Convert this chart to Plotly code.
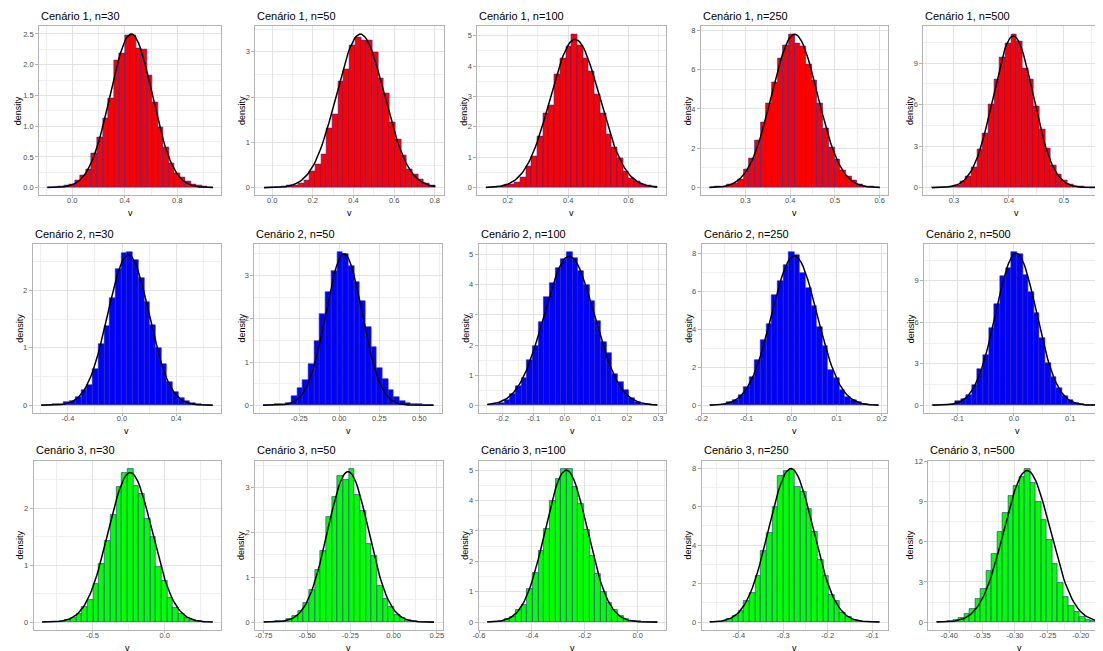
import numpy as np
import plotly.graph_objects as go

PAGE_W, PAGE_H = 1103, 651
OFF = 8  # default page margin around the plot div
W, H = PAGE_W - OFF, PAGE_H - OFF

titles = ["Cenário 1, n=30", "Cenário 1, n=50", "Cenário 1, n=100", "Cenário 1, n=250", "Cenário 1, n=500",
          "Cenário 2, n=30", "Cenário 2, n=50", "Cenário 2, n=100", "Cenário 2, n=250", "Cenário 2, n=500",
          "Cenário 3, n=30", "Cenário 3, n=50", "Cenário 3, n=100", "Cenário 3, n=250", "Cenário 3, n=500"]

fills = ["#FF0000"] * 5 + ["#0000FF"] * 5 + ["#00FF00"] * 5

# histogram densities (30 bins each)
h1 = [0.00, 0.01, 0.02, 0.03, 0.06, 0.12, 0.20, 0.30, 0.56, 0.81, 1.13, 1.46, 2.07, 2.19, 2.48, 2.48, 2.27, 2.25, 1.82, 1.38, 0.98, 0.66, 0.40, 0.24, 0.16, 0.10, 0.06, 0.03, 0.02, 0.01]
h2 = [0.00, 0.005, 0.01, 0.02, 0.04, 0.06, 0.09, 0.15, 0.36, 0.51, 0.74, 1.31, 1.62, 2.34, 2.61, 3.14, 3.32, 3.26, 3.26, 2.98, 2.42, 2.08, 1.44, 1.06, 0.71, 0.40, 0.29, 0.18, 0.10, 0.06]
h3 = [0.01, 0.02, 0.05, 0.08, 0.12, 0.17, 0.35, 0.70, 1.02, 1.68, 2.43, 2.72, 3.72, 4.25, 4.65, 5.05, 4.68, 4.25, 3.83, 3.07, 2.45, 1.75, 1.32, 0.95, 0.55, 0.30, 0.20, 0.12, 0.07, 0.03]
h4 = [0.02, 0.05, 0.08, 0.15, 0.22, 0.40, 0.95, 1.48, 2.40, 3.33, 4.27, 5.33, 6.55, 7.25, 7.80, 7.35, 7.15, 6.25, 5.47, 4.28, 3.00, 2.05, 1.42, 0.88, 0.55, 0.35, 0.18, 0.08, 0.04, 0.02]
h5 = [0.01, 0.02, 0.05, 0.10, 0.20, 0.45, 0.85, 1.50, 2.80, 3.95, 6.05, 7.85, 9.40, 10.40, 11.10, 10.55, 8.65, 7.80, 5.85, 4.20, 2.85, 1.60, 0.95, 0.50, 0.25, 0.12, 0.06, 0.03, 0.01, 0.01]
h6 = [0.005, 0.01, 0.02, 0.03, 0.05, 0.08, 0.15, 0.27, 0.36, 0.63, 1.07, 1.37, 1.87, 2.37, 2.65, 2.67, 2.52, 2.22, 1.80, 1.40, 1.00, 0.72, 0.40, 0.23, 0.13, 0.08, 0.04, 0.02, 0.01, 0.01]
h7 = [0.005, 0.01, 0.02, 0.03, 0.06, 0.22, 0.39, 0.58, 0.96, 1.48, 2.10, 2.62, 3.10, 3.55, 3.50, 3.22, 2.85, 2.40, 1.80, 1.35, 0.85, 0.60, 0.35, 0.20, 0.10, 0.05, 0.03, 0.02, 0.01, 0.005]
h8 = [0.01, 0.03, 0.07, 0.18, 0.38, 0.65, 0.90, 1.50, 1.97, 2.75, 3.60, 4.05, 4.55, 4.85, 5.10, 4.90, 4.45, 4.00, 3.45, 2.80, 2.10, 1.75, 1.05, 0.78, 0.52, 0.25, 0.12, 0.05, 0.03, 0.02]
h9 = [0.02, 0.03, 0.08, 0.15, 0.30, 0.55, 0.95, 1.50, 2.40, 3.45, 4.30, 5.80, 6.55, 7.40, 8.10, 7.95, 7.00, 6.20, 5.25, 4.15, 3.15, 1.85, 1.45, 0.80, 0.45, 0.30, 0.15, 0.08, 0.04, 0.02]
h10 = [0.01, 0.02, 0.05, 0.10, 0.30, 0.45, 0.75, 1.50, 2.65, 3.60, 5.60, 7.35, 9.35, 9.90, 11.10, 10.90, 9.40, 8.20, 6.65, 4.85, 3.05, 2.05, 1.25, 0.70, 0.35, 0.15, 0.07, 0.03, 0.02, 0.01]
h11 = [0.005, 0.01, 0.01, 0.02, 0.04, 0.08, 0.14, 0.27, 0.39, 0.68, 1.02, 1.43, 1.88, 2.38, 2.62, 2.70, 2.40, 2.25, 1.82, 1.50, 0.98, 0.72, 0.43, 0.25, 0.15, 0.08, 0.04, 0.02, 0.01, 0.005]
h12 = [0.005, 0.01, 0.02, 0.03, 0.08, 0.14, 0.25, 0.43, 0.71, 1.17, 1.60, 2.35, 2.80, 3.27, 3.17, 3.43, 2.85, 2.48, 1.75, 1.48, 0.82, 0.52, 0.33, 0.17, 0.10, 0.05, 0.03, 0.01, 0.01, 0.005]
h13 = [0.005, 0.02, 0.05, 0.10, 0.18, 0.40, 0.56, 1.10, 1.62, 2.35, 3.07, 4.00, 4.72, 5.05, 5.05, 4.45, 3.88, 3.05, 2.17, 1.58, 1.00, 0.62, 0.40, 0.22, 0.10, 0.05, 0.03, 0.01, 0.01, 0.005]
h14 = [0.01, 0.03, 0.08, 0.18, 0.32, 0.60, 1.13, 1.50, 2.40, 3.70, 4.65, 6.00, 7.60, 7.88, 7.90, 7.00, 6.75, 5.90, 4.70, 3.25, 2.40, 1.43, 1.12, 0.50, 0.25, 0.13, 0.06, 0.03, 0.01, 0.01]
h15 = [0.02, 0.05, 0.10, 0.20, 0.35, 0.65, 1.00, 1.70, 2.50, 3.80, 5.10, 6.70, 8.15, 9.45, 10.15, 10.85, 11.45, 10.35, 9.00, 7.65, 6.10, 4.35, 2.95, 1.90, 1.20, 0.75, 0.40, 0.20, 0.10, 0.05]
heights = [h1, h2, h3, h4, h5, h6, h7, h8, h9, h10, h11, h12, h13, h14, h15]

# data range of the histogram bins
bin_lo = [-0.190, -0.040, 0.1272, 0.2197, 0.2600, -0.597, -0.476, -0.249, -0.1813, -0.1444, -0.849, -0.7513, -0.5692, -0.4647, -0.4192]
bin_hi = [1.073, 0.802, 0.6957, 0.6002, 0.5684, 0.670, 0.590, 0.297, 0.1931, 0.1556, 0.3334, 0.2341, 0.0743, -0.0836, -0.1680]

# fitted normal curve parameters
curve_mean = [0.449, 0.434, 0.423, 0.410, 0.408, 0.047, 0.030, 0.014, 0.006, 0.004, -0.239, -0.263, -0.270, -0.283, -0.2816]
curve_sd = [0.1596, 0.1177, 0.0818, 0.0512, 0.0364, 0.1525, 0.1140, 0.0806, 0.0506, 0.0363, 0.1517, 0.1187, 0.0798, 0.0500, 0.0353]

xtick_vals = [[0.0, 0.4, 0.8], [0.0, 0.2, 0.4, 0.6, 0.8], [0.2, 0.4, 0.6], [0.3, 0.4, 0.5, 0.6], [0.3, 0.4, 0.5],
              [-0.4, 0.0, 0.4], [-0.25, 0.0, 0.25, 0.5], [-0.2, -0.1, 0.0, 0.1, 0.2, 0.3], [-0.2, -0.1, 0.0, 0.1, 0.2], [-0.1, 0.0, 0.1],
              [-0.5, 0.0], [-0.75, -0.5, -0.25, 0.0, 0.25], [-0.6, -0.4, -0.2, 0.0], [-0.4, -0.3, -0.2, -0.1], [-0.40, -0.35, -0.30, -0.25, -0.20]]
xtick_text = [["0.0", "0.4", "0.8"], ["0.0", "0.2", "0.4", "0.6", "0.8"], ["0.2", "0.4", "0.6"], ["0.3", "0.4", "0.5", "0.6"], ["0.3", "0.4", "0.5"],
              ["-0.4", "0.0", "0.4"], ["-0.25", "0.00", "0.25", "0.50"], ["-0.2", "-0.1", "0.0", "0.1", "0.2", "0.3"], ["-0.2", "-0.1", "0.0", "0.1", "0.2"], ["-0.1", "0.0", "0.1"],
              ["-0.5", "0.0"], ["-0.75", "-0.50", "-0.25", "0.00", "0.25"], ["-0.6", "-0.4", "-0.2", "0.0"], ["-0.4", "-0.3", "-0.2", "-0.1"], ["-0.40", "-0.35", "-0.30", "-0.25", "-0.20"]]
ytick_vals = [[0, 0.5, 1.0, 1.5, 2.0, 2.5], [0, 1, 2, 3], [0, 1, 2, 3, 4, 5], [0, 2, 4, 6, 8], [0, 3, 6, 9],
              [0, 1, 2], [0, 1, 2, 3], [0, 1, 2, 3, 4, 5], [0, 2, 4, 6, 8], [0, 3, 6, 9],
              [0, 1, 2], [0, 1, 2, 3], [0, 1, 2, 3, 4, 5], [0, 2, 4, 6, 8], [0, 3, 6, 9, 12]]
ytick_text = [["0.0", "0.5", "1.0", "1.5", "2.0", "2.5"], ["0", "1", "2", "3"], ["0", "1", "2", "3", "4", "5"], ["0", "2", "4", "6", "8"], ["0", "3", "6", "9"],
              ["0", "1", "2"], ["0", "1", "2", "3"], ["0", "1", "2", "3", "4", "5"], ["0", "2", "4", "6", "8"], ["0", "3", "6", "9"],
              ["0", "1", "2"], ["0", "1", "2", "3"], ["0", "1", "2", "3", "4", "5"], ["0", "2", "4", "6", "8"], ["0", "3", "6", "9", "12"]]

# ---- layout (page pixels) ----
panel_left = [33.3, 251.0, 474.3, 699.3, 923.3,
              26.7, 250.0, 475.7, 700.0, 924.0,
              27.7, 250.7, 475.7, 700.0, 928.3]
panel_right = [216.7, 440.5, 664.0, 888.0, 1111.0,
               216.7, 439.0, 664.0, 886.7, 1111.0,
               216.7, 439.3, 664.0, 887.7, 1111.0]
row_top = [22.5, 241.5, 459.7]
row_bottom = [192.5, 411.5, 629.7]

FONT = "Liberation Sans, Arial, sans-serif"
OUTLINE = "#2a2aa0"
GRID_MAJOR = "#e2e2e2"
GRID_MINOR = "#efefef"
BORDER = "#b3b3b3"


def fx(p):
    return (p - OFF) / W


def fy(p):
    return 1 - (p - OFF) / H


def text_w(s, size):
    cw = {".": 0.278, "-": 0.333}
    return sum(cw.get(c, 0.556) for c in s) * size


fig = go.Figure()
annotations = []
layout = {}

for i in range(15):
    k = i + 1
    row = i // 5
    h = heights[i]
    lo, hi = bin_lo[i], bin_hi[i]
    nb = len(h)
    w = (hi - lo) / nb
    centers = [lo + (j + 0.5) * w for j in range(nb)]
    mu, sd = curve_mean[i], curve_sd[i]
    xs = np.linspace(lo, hi, 101)
    ys = np.exp(-0.5 * ((xs - mu) / sd) ** 2) / (sd * np.sqrt(2 * np.pi))

    xa = "x" if k == 1 else f"x{k}"
    ya = "y" if k == 1 else f"y{k}"

    fig.add_trace(go.Bar(x=centers, y=h, width=w, xaxis=xa, yaxis=ya,
                         marker=dict(color=fills[i], line=dict(color=OUTLINE, width=0.6)),
                         showlegend=False, hoverinfo="skip"))
    fig.add_trace(go.Scatter(x=xs, y=ys, mode="lines", xaxis=xa, yaxis=ya,
                             line=dict(color="black", width=1.5), showlegend=False, hoverinfo="skip"))

    span = hi - lo
    xr0, xr1 = lo - 0.05 * span, hi + 0.05 * span
    L, R = panel_left[i], panel_right[i]
    vis_r = R
    if R > PAGE_W:
        vis_r = PAGE_W
        xr1 = xr0 + (xr1 - xr0) * (PAGE_W - L) / (R - L)
    ymax = max(max(h), float(ys.max()))
    yr = [-0.05 * ymax, 1.05 * ymax]
    T, B = row_top[row], row_bottom[row]

    xv = xtick_vals[i]
    yv = ytick_vals[i]
    xstep = xv[1] - xv[0]
    ystep = yv[1] - yv[0]

    layout["xaxis" if k == 1 else f"xaxis{k}"] = dict(
        domain=[fx(L), min(1.0, fx(vis_r))], anchor=ya, range=[xr0, xr1],
        tickmode="array", tickvals=xv, ticktext=xtick_text[i],
        showgrid=True, gridcolor=GRID_MAJOR, gridwidth=1,
        minor=dict(tickmode="linear", tick0=xv[0], dtick=xstep / 2, showgrid=True,
                   gridcolor=GRID_MINOR, gridwidth=1, ticks=""),
        showline=True, linecolor=BORDER, linewidth=1, mirror=True,
        ticks="outside", ticklen=2, tickcolor=BORDER, tickwidth=1,
        ticklabelstandoff=-4,
        tickfont=dict(family=FONT, size=7.5, color="#4d4d4d"),
        zeroline=False, fixedrange=True)
    layout["yaxis" if k == 1 else f"yaxis{k}"] = dict(
        domain=[fy(B), fy(T)], anchor=xa, range=yr,
        tickmode="array", tickvals=yv, ticktext=ytick_text[i],
        showgrid=True, gridcolor=GRID_MAJOR, gridwidth=1,
        minor=dict(tickmode="linear", tick0=yv[0], dtick=ystep / 2, showgrid=True,
                   gridcolor=GRID_MINOR, gridwidth=1, ticks=""),
        showline=True, linecolor=BORDER, linewidth=1, mirror=(R <= PAGE_W),
        ticks="outside", ticklen=3, tickcolor=BORDER, tickwidth=1,
        tickfont=dict(family=FONT, size=7.5, color="#4d4d4d"),
        zeroline=False, fixedrange=True)

    # panel title
    annotations.append(dict(text=titles[i], x=fx(L), y=fy(T - 10.5), xref="paper", yref="paper",
                            xanchor="left", yanchor="middle", showarrow=False,
                            font=dict(family=FONT, size=11, color="black")))
    # y axis title
    lw = max(text_w(s, 7.5) for s in ytick_text[i])
    dx = L - (8.5 + 1.2 * lw)
    annotations.append(dict(text="density", x=fx(dx), y=fy((T + B) / 2), xref="paper", yref="paper",
                            xanchor="center", yanchor="middle", textangle=-90, showarrow=False,
                            font=dict(family=FONT, size=9, color="black")))
    # x axis title
    annotations.append(dict(text="v", x=fx((L + R) / 2), y=fy(B + 18), xref="paper", yref="paper",
                            xanchor="center", yanchor="middle", showarrow=False,
                            font=dict(family=FONT, size=9, color="black")))

fig.update_layout(
    width=W, height=H, autosize=False,
    margin=dict(l=0, r=0, t=0, b=0),
    paper_bgcolor="white", plot_bgcolor="white",
    bargap=0, barmode="overlay",
    annotations=annotations,
    **layout)

fig.write_html("out.html", config={"displayModeBar": False})
